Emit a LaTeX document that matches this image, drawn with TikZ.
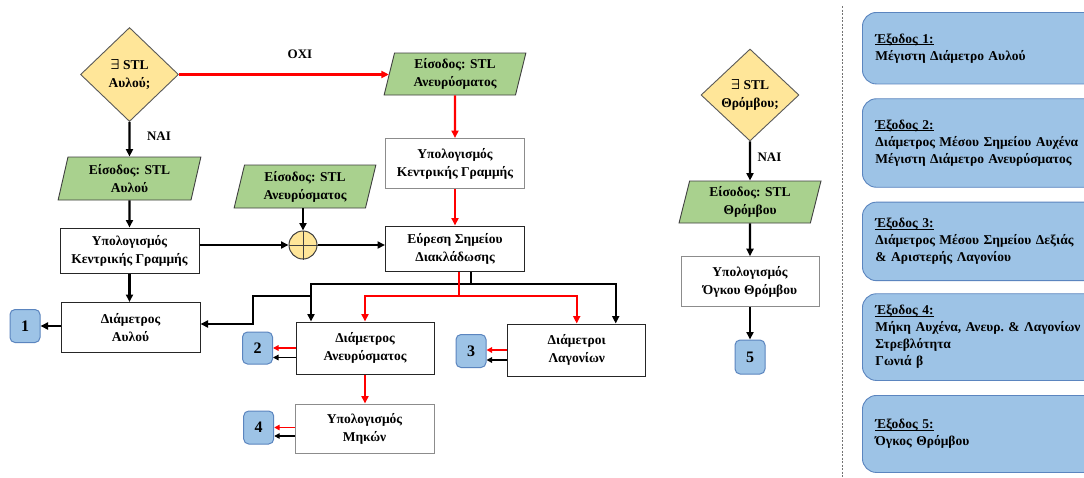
\documentclass[tikz,border=0pt]{standalone}
\usepackage{fontspec}
\setmainfont{Liberation Serif}
\usetikzlibrary{shapes.geometric,arrows.meta,calc}
\definecolor{greenin}{HTML}{A9D18E}
\definecolor{golddec}{HTML}{FFE699}
\definecolor{blueout}{HTML}{9DC3E6}
\definecolor{blueedge}{HTML}{5B85BF}
\definecolor{redline}{HTML}{FF0000}
\newcommand{\ulbl}[1]{\setbox0\hbox{#1}\rlap{\rule[-1.8pt]{\wd0}{0.8pt}}\box0}
\begin{document}
\begin{tikzpicture}[x=1pt,y=-1pt,
  every node/.style={font=\fontsize{13.5}{18}\selectfont\bfseries, inner sep=0pt, align=center},
  dec/.style={diamond, draw=black!65, fill=golddec, line width=0.9pt, minimum width=98pt, minimum height=94pt},
  inp/.style={trapezium, trapezium left angle=77, trapezium right angle=103, trapezium stretches=true,
    draw=black!75, fill=greenin, line width=0.9pt, minimum width=143pt, minimum height=42pt},
  proc/.style={rectangle, draw=black!85, line width=1pt, minimum width=139pt, minimum height=50pt, fill=white},
  procl/.style={proc, draw=black!45},
  outsq/.style={rectangle, rounded corners=5pt, draw=blueedge, fill=blueout, line width=1pt,
    minimum width=30pt, minimum height=33pt, font=\fontsize{16}{18}\selectfont\bfseries},
  outbox/.style={rectangle, rounded corners=14pt, draw=blueedge, fill=blueout, line width=0.9pt,
    anchor=north west, minimum width=240pt, inner xsep=13pt, text width=214pt, align=left,
    font=\fontsize{13.5}{17}\selectfont\bfseries},
  ba/.style={-{Triangle[length=7.5pt,width=7pt]}, line width=2.3pt, black},
  ra/.style={ba, redline},
  bl/.style={line width=2.3pt, black},
  rl/.style={line width=2.3pt, redline},
  sa/.style={-{Triangle[length=5.5pt,width=5.5pt]}, line width=1.5pt, black},
  sra/.style={sa, redline},
  lab/.style={font=\fontsize{13}{15}\selectfont\bfseries}
]
\useasboundingbox (0,0) rectangle (1084,477);
\clip (0,0) rectangle (1084,477);
\fill[white] (0,0) rectangle (1084,477);

% left / middle flow
\node[dec] (d1) at (129.5,74.5) {{\boldmath$\exists$} STL\\Αυλού;};
\node[inp] (p2) at (455,74) {Είσοδος: STL\\Ανευρύσματος};
\node[procl] (b2) at (455,163.5) {Υπολογισμός\\Κεντρικής Γραμμής};
\node[proc, minimum height=45pt] (b3) at (455,248.5) {Εύρεση Σημείου\\Διακλάδωσης};
\node[inp, minimum height=43pt] (p1) at (129.5,178.5) {Είσοδος: STL\\Αυλού};
\node[proc, minimum height=45pt] (b1) at (129.5,250.5) {Υπολογισμός\\Κεντρικής Γραμμής};
\node[inp, minimum height=43pt] (p3) at (305,186.5) {Είσοδος: STL\\Ανευρύσματος};
\node[circle, draw=black!75, fill=golddec, minimum size=28pt, line width=1pt] (c) at (303,245) {};
\node[proc] (b4) at (130.5,327.5) {Διάμετρος\\Αυλού};
\node[outsq] (s1) at (25,326) {1};
\node[proc, minimum width=138pt, minimum height=52pt] (b5) at (365,348) {Διάμετρος\\Ανευρύσματος};
\node[outsq, minimum height=32pt] (s2) at (257.5,348) {2};
\node[procl, minimum height=49pt] (b7) at (364.5,428.5) {Υπολογισμός\\Μηκών};
\node[outsq] (s4) at (258.7,427.5) {4};
\node[proc, minimum width=138pt, minimum height=52pt] (b6) at (576.7,350) {Διάμετροι\\Λαγονίων};
\node[outsq] (s3) at (471,351) {3};

% right column
\node[dec, minimum height=92pt] (d2) at (750,95) {{\boldmath$\exists$} STL\\Θρόμβου;};
\node[inp] (p4) at (750,202) {Είσοδος: STL\\Θρόμβου};
\node[procl, minimum width=138pt] (b8) at (750,281.7) {Υπολογισμός\\Όγκου Θρόμβου};
\node[outsq, minimum height=34pt] (s5) at (750,357) {5};

% plus sign in the circle
\draw[black!75, line width=1pt] (c.north) -- (c.south) (c.west) -- (c.east);

% connectors
\draw[ra] (d1.east) -- (d1.east -| p2.west);
\node[lab] (lno) at (300,54) {ΟΧΙ};
\draw[ba] (d1.south) -- (p1.north);
\node[lab] (lyes1) at (159,136) {ΝΑΙ};
\draw[ba] (p1.south) -- (b1.north);
\draw[ra] (p2.south) -- (b2.north);
\draw[ra] (b2.south) -- (b3.north);
\draw[ba] (c.north |- p3.south) -- (c.north);
\draw[ba] (c.west -| b1.east) -- (c.west);
\draw[ba] (c.east) -- (c.east -| b3.west);
\draw[ba] (b1.south) -- (b1.south |- b4.north);
\draw[ba] (b4.west |- s1.east) -- (s1.east);

% branching from b3
\coordinate (jb) at ([xshift=16pt]b3.south |- 0,284);
\draw[bl] ([xshift=16pt]b3.south) -- (jb);
\draw[ba] (jb) -| ([xshift=-54pt]b5.north);
\draw[ba] (jb) -| ([xshift=39pt]b6.north);
\draw[ba] ([xshift=-54pt]b5.north |- 0,296) -- (253,296) |- ([yshift=3.5pt]b4.east);
\coordinate (jr) at ([xshift=4pt]b3.south |- 0,296);
\draw[rl] ([xshift=4pt]b3.south) -- (jr);
\draw[ra] (jr) -| (b5.north);
\draw[ra] (jr) -| (b6.north);

% outputs 2,3,4
\draw[sra] (b5.west) -- (b5.west -| s2.east);
\draw[sa] ([yshift=-9.5pt]b5.west) -- ([yshift=-9.5pt]b5.west -| s2.east);
\draw[sra] (b6.west) -- (b6.west -| s3.east);
\draw[sa] ([yshift=-10pt]b6.west) -- ([yshift=-10pt]b6.west -| s3.east);
\draw[ra] (b5.south) -- (b5.south |- b7.north);
\draw[sra] ([yshift=1pt]b7.west) -- ([yshift=1pt]b7.west -| s4.east);
\draw[sa] ([yshift=-7.5pt]b7.west) -- ([yshift=-7.5pt]b7.west -| s4.east);

% right column connectors
\draw[ba] (d2.south) -- (p4.north);
\node[lab] (lyes2) at (769.5,157) {ΝΑΙ};
\draw[ba] (p4.south) -- (b8.north);
\draw[ba] (b8.south) -- (s5.north);

% separator
\draw[black!55, line width=0.9pt, dash pattern=on 2pt off 1.5pt] (842.5,6) -- (842.5,477);

% output descriptions
\node[outbox, minimum height=71.5pt] (o1) at (862,12) {\ulbl{Έξοδος 1:}\\Μέγιστη Διάμετρο Αυλού};
\node[outbox, minimum height=88.5pt] (o2) at (862,98.3) {\ulbl{Έξοδος 2:}\\Διάμετρος Μέσου Σημείου Αυχένα\\Μέγιστη Διάμετρο Ανευρύσματος};
\node[outbox, minimum height=78.5pt] (o3) at (862,201.7) {\ulbl{Έξοδος 3:}\\\makebox[206pt][s]{Διάμετρος Μέσου Σημείου Δεξιάς}\\\& Αριστερής Λαγονίου};
\node[outbox, minimum height=86.7pt] (o4) at (862,293.3) {\ulbl{Έξοδος 4:}\\Μήκη Αυχένα, Ανευρ.\ \& Λαγονίων\\Στρεβλότητα\\Γωνιά β};
\node[outbox, minimum height=77pt] (o5) at (862,395) {\ulbl{Έξοδος 5:}\\Όγκος Θρόμβου};
\end{tikzpicture}
\end{document}
